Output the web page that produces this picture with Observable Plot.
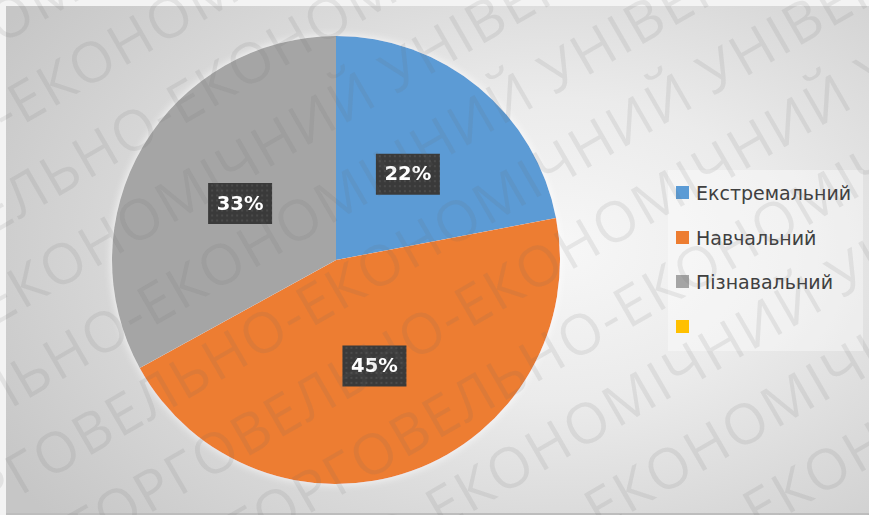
<!DOCTYPE html>
<html>
<head>
<meta charset="utf-8">
<script src="https://cdn.jsdelivr.net/npm/d3@7"></script>
<script src="https://cdn.jsdelivr.net/npm/@observablehq/plot@0.6"></script>
<style>
  html, body { margin: 0; padding: 0; background: #f3f3f3; }
  #wrap { position: relative; width: 869px; height: 515px; overflow: hidden; background: #f3f3f3; }
  #bg { position: absolute; left: 6px; top: 6px; right: 0; bottom: 0;
        border-bottom: 2px solid #bdbdbd;
        background: radial-gradient(ellipse 75% 85% at 64% 48%, #f7f7f7 0%, #ebebeb 35%, #d9d9d9 65%, #c6c6c6 100%); }
  #chart { position: absolute; left: 0; top: 0; }
  #legend { position: absolute; left: 668px; top: 170px; width: 195px; height: 181px;
            background: rgba(255,255,255,0.38); }
  .item { position: absolute; left: 0; height: 20px; display: flex; align-items: center; }
  .sw { position: absolute; left: 8px; width: 13px; height: 13px; }
  .lab { position: absolute; left: 28px; white-space: nowrap; font-family: "DejaVu Sans", sans-serif;
         font-size: 19px; color: #404040; line-height: 20px; }
  #wm { position: absolute; left: 0; top: 0; pointer-events: none; }
</style>
</head>
<body>
<div id="wrap">
  <div id="bg"></div>
  <div id="chart"></div>
  <div id="legend"></div>
  <svg id="wm" width="869" height="515"></svg>
</div>
<script>
// ---- data ----
const categories = ["Екстремальний", "Навчальний", "Пізнавальний", ""];
const values = [22, 45, 33, 0];
const labels = ["22%", "45%", "33%", ""];
const colors = ["#5B9BD5", "#ED7D31", "#A5A5A5", "#FFC000"];
const watermark = "ДТЕУ ДЕРЖАВНИЙ ТОРГОВЕЛЬНО-ЕКОНОМІЧНИЙ УНІВЕРСИТЕТ ДТЕУ ";

// ---- derived pie geometry (unit circle) ----
const rows = categories.map((c, i) => ({category: c, value: values[i], label: labels[i]}));
const arcs = d3.pie().value(d => d.value).sort(null)(rows);
const unitArc = d3.arc().innerRadius(0).outerRadius(1);
const slices = arcs.filter(a => a.data.value > 0).map(a => {
  const [cx, cy] = unitArc.centroid(a);
  return {...a.data, startAngle: a.startAngle, endAngle: a.endAngle, cx, cy: -cy};
});

function pieMark(...args) {
  const scales = args.find(a => a && typeof a.x === "function" && typeof a.y === "function");
  const cx = scales.x(0), cy = scales.y(0);
  const r = scales.x(1) - scales.x(0);
  const arc = d3.arc().innerRadius(0).outerRadius(r);
  const g = d3.create("svg:g").attr("filter", "url(#glow)");
  g.selectAll("path").data(slices).join("path")
    .attr("transform", `translate(${cx},${cy})`)
    .attr("d", d => arc(d))
    .attr("fill", d => scales.color(d.category));
  return g.node();
}

const boxSymbol = { draw(context) { context.rect(-32, -20.5, 64, 41); } };

const chart = Plot.plot({
  width: 869,
  height: 515,
  margin: 0,
  style: { background: "transparent", overflow: "visible" },
  x: { domain: [-1, 1], range: [112, 560], axis: null },
  y: { domain: [-1, 1], range: [484, 36], axis: null },
  color: { domain: categories, range: colors },
  marks: [
    Plot.dot(slices, { x: "cx", y: "cy", fill: "category", r: 1, fillOpacity: 0 }),
    pieMark,
    Plot.dot(slices, { x: "cx", y: "cy", symbol: boxSymbol, r: 10, fill: "url(#dots)", stroke: "none", ariaLabel: "label-box" }),
    Plot.text(slices, { x: "cx", y: "cy", text: "label", fill: "white", fontSize: 19.5, fontWeight: "bold",
                        fontFamily: "DejaVu Sans" })
  ]
});

// defs: dotted pattern, shadow, glow
const svg = d3.select(chart);
const defs = svg.insert("defs", ":first-child");
const pat = defs.append("pattern").attr("id", "dots").attr("patternUnits", "userSpaceOnUse")
  .attr("width", 5).attr("height", 5);
pat.append("rect").attr("width", 5).attr("height", 5).attr("fill", "#3a3a3a");
pat.append("rect").attr("x", 1).attr("y", 1).attr("width", 2).attr("height", 2).attr("fill", "#4a4a4a");
const sh = defs.append("filter").attr("id", "shadow").attr("x", "-30%").attr("y", "-30%").attr("width", "160%").attr("height", "160%");
sh.append("feDropShadow").attr("dx", 2.5).attr("dy", 3).attr("stdDeviation", 2).attr("flood-color", "#000").attr("flood-opacity", 0.5);
const gl = defs.append("filter").attr("id", "glow").attr("x", "-10%").attr("y", "-10%").attr("width", "120%").attr("height", "120%");
gl.append("feDropShadow").attr("dx", 0).attr("dy", 0).attr("stdDeviation", 5).attr("flood-color", "#ffffff").attr("flood-opacity", 0.85);
svg.selectAll('g[aria-label="label-box"]').attr("filter", "url(#shadow)");

document.getElementById("chart").appendChild(chart);

// legend using the plot's color scale
const color = chart.scale("color");
const legendRowsY = [23, 67.7, 112.3, 157];
const legend = d3.select("#legend");
categories.forEach((c, i) => {
  const item = legend.append("div").attr("class", "item").style("top", (legendRowsY[i] - 10) + "px");
  item.append("div").attr("class", "sw").style("top", "3px").style("background", color.range[color.domain.indexOf(c)]);
  item.append("div").attr("class", "lab").text(c);
});

// watermark overlay
const wm = d3.select("#wm");
const wg = wm.append("g").attr("transform", "rotate(-30 434 257)");
const line = watermark.repeat(4);
for (let k = -7; k <= 7; k++) {
  wg.append("text")
    .attr("x", -700 + (k * 137) % 400)
    .attr("y", 257 + k * 80)
    .attr("font-family", "Open Sans, sans-serif")
    .attr("font-size", 56)
    .attr("letter-spacing", 2)
    .attr("fill", "#6e6e6e")
    .attr("fill-opacity", 0.12)
    .text(line);
}
</script>
</body>
</html>
